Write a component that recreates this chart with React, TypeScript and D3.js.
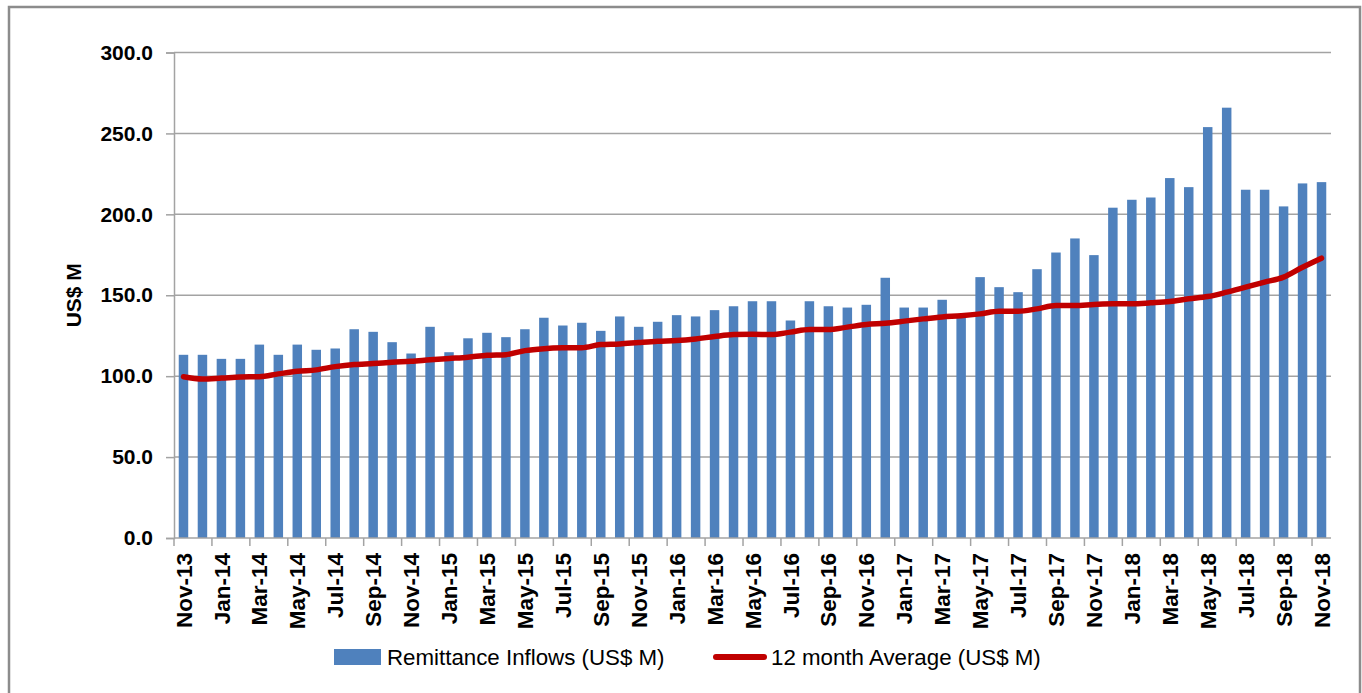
import React, { useRef, useEffect } from 'react';
import * as d3 from 'd3';

// month labels, Nov-13 .. Nov-18
const months = [
  'Nov-13', 'Dec-13',
  'Jan-14', 'Feb-14', 'Mar-14', 'Apr-14', 'May-14', 'Jun-14', 'Jul-14', 'Aug-14', 'Sep-14', 'Oct-14', 'Nov-14', 'Dec-14',
  'Jan-15', 'Feb-15', 'Mar-15', 'Apr-15', 'May-15', 'Jun-15', 'Jul-15', 'Aug-15', 'Sep-15', 'Oct-15', 'Nov-15', 'Dec-15',
  'Jan-16', 'Feb-16', 'Mar-16', 'Apr-16', 'May-16', 'Jun-16', 'Jul-16', 'Aug-16', 'Sep-16', 'Oct-16', 'Nov-16', 'Dec-16',
  'Jan-17', 'Feb-17', 'Mar-17', 'Apr-17', 'May-17', 'Jun-17', 'Jul-17', 'Aug-17', 'Sep-17', 'Oct-17', 'Nov-17', 'Dec-17',
  'Jan-18', 'Feb-18', 'Mar-18', 'Apr-18', 'May-18', 'Jun-18', 'Jul-18', 'Aug-18', 'Sep-18', 'Oct-18', 'Nov-18',
];

// Remittance Inflows (US$ M)
const inflows = [
  113.2, 113.2,
  110.7, 110.7, 119.5, 113.2, 119.5, 116.3, 117.1, 129.0, 127.4, 121.0, 114.0, 130.5,
  114.8, 123.4, 126.8, 124.1, 129.0, 136.1, 131.3, 133.0, 128.0, 136.9, 130.5, 133.6,
  137.7, 136.9, 140.8, 143.2, 146.3, 146.3, 134.4, 146.3, 143.2, 142.4, 144.1, 160.8,
  142.4, 142.4, 147.2, 137.5, 161.2, 155.0, 151.9, 166.1, 176.4, 185.1, 174.8, 204.1,
  209.0, 210.4, 222.4, 216.8, 253.9, 265.9, 215.2, 215.2, 204.9, 219.1, 219.9,
];

// 12 month Average (US$ M)
const average = [
  99.6, 98.2,
  98.8, 99.5, 99.7, 101.4, 103.0, 103.9, 105.9, 107.2, 107.8, 108.6, 109.2, 110.1,
  110.9, 111.7, 112.9, 113.3, 115.8, 117.0, 117.5, 117.6, 119.5, 119.9, 120.8, 121.6,
  122.0, 123.0, 124.5, 125.7, 125.9, 125.7, 127.2, 128.8, 128.8, 130.3, 131.9, 132.7,
  134.0, 135.4, 136.6, 137.3, 138.5, 140.1, 140.1, 141.6, 143.7, 143.7, 144.3, 144.7,
  144.7, 145.3, 146.1, 147.8, 149.2, 151.9, 155.0, 158.1, 161.2, 167.3, 172.9,
];

const yTicks = [0, 50, 100, 150, 200, 250, 300];

const seriesNames = ['Remittance Inflows (US$ M)', '12 month Average (US$ M)'];

const BAR = '#4f81bd';
const LINE = '#c00000';
const GRID = '#a3a3a3';
const FONT = '"Liberation Sans", Arial, sans-serif';

const App = () => {
  const svgRef = useRef<SVGSVGElement>(null);

  useEffect(() => {
    const svg = d3.select(svgRef.current);
    svg.selectAll('*').remove();

    const left = 174;
    const right = 1331;
    const top = 52.5;
    const bottom = 538;

    // outer chart border
    svg.append('rect')
      .attr('x', 9).attr('y', 7)
      .attr('width', 1351).attr('height', 710)
      .attr('fill', '#fff')
      .attr('stroke', '#8c8c8c')
      .attr('stroke-width', 2.5);

    const x = d3.scaleBand()
      .domain(months)
      .range([left, right])
      .paddingInner(0.5)
      .paddingOuter(0.25);

    const y = d3.scaleLinear()
      .domain([0, 300])
      .range([bottom, top]);

    // gridlines
    svg.append('g')
      .selectAll('line')
      .data(yTicks.filter(d => d > 0))
      .join('line')
      .attr('x1', left).attr('x2', right)
      .attr('y1', d => y(d)).attr('y2', d => y(d))
      .attr('stroke', GRID)
      .attr('stroke-width', 1.5);

    // y axis
    const yAxis = svg.append('g')
      .attr('transform', `translate(${left},0)`)
      .call(d3.axisLeft(y).tickValues(yTicks).tickFormat(d => d3.format('.1f')(d as number)).tickSize(8).tickPadding(13));
    yAxis.select('.domain').attr('stroke', GRID).attr('stroke-width', 1.5);
    yAxis.selectAll('.tick line').attr('stroke', GRID).attr('stroke-width', 1.5);
    yAxis.selectAll('.tick text')
      .attr('font-family', FONT)
      .attr('font-size', 21)
      .attr('font-weight', 'bold')
      .attr('fill', '#000');

    // bars
    svg.append('g')
      .attr('fill', BAR)
      .selectAll('rect')
      .data(inflows)
      .join('rect')
      .attr('x', (d, i) => x(months[i]) as number)
      .attr('y', d => y(d))
      .attr('width', x.bandwidth())
      .attr('height', d => y(0) - y(d));

    // x axis line
    svg.append('line')
      .attr('x1', left).attr('x2', right)
      .attr('y1', bottom).attr('y2', bottom)
      .attr('stroke', GRID).attr('stroke-width', 1.5);

    // x ticks every 2 months at category boundaries
    const step = x.step();
    const boundaries = months.filter((m, i) => i % 2 === 0).map((m, i) => left + i * 2 * step);
    svg.append('g')
      .selectAll('line')
      .data(boundaries)
      .join('line')
      .attr('x1', d => d).attr('x2', d => d)
      .attr('y1', bottom).attr('y2', bottom + 8)
      .attr('stroke', GRID).attr('stroke-width', 1.5);

    // x labels, every other month, rotated
    svg.append('g')
      .selectAll('text')
      .data(months.filter((m, i) => i % 2 === 0))
      .join('text')
      .attr('transform', d => `translate(${(x(d) as number) + x.bandwidth() / 2},${bottom + 15}) rotate(-90)`)
      .attr('dy', '0.36em')
      .attr('text-anchor', 'end')
      .attr('font-family', FONT)
      .attr('font-size', 22.5)
      .attr('font-weight', 'bold')
      .text(d => d);

    // 12 month average line
    const line = d3.line<number>()
      .x((d, i) => (x(months[i]) as number) + x.bandwidth() / 2)
      .y(d => y(d))
      .curve(d3.curveMonotoneX);

    svg.append('path')
      .datum(average)
      .attr('d', line)
      .attr('fill', 'none')
      .attr('stroke', LINE)
      .attr('stroke-width', 5.5)
      .attr('stroke-linejoin', 'round')
      .attr('stroke-linecap', 'round');

    // y axis title
    svg.append('text')
      .attr('transform', `translate(81,${(top + bottom) / 2}) rotate(-90)`)
      .attr('text-anchor', 'middle')
      .attr('font-family', FONT)
      .attr('font-size', 21)
      .attr('font-weight', 'bold')
      .text('US$ M');

    // legend
    const legend = svg.append('g');
    legend.append('rect')
      .attr('x', 334).attr('y', 649)
      .attr('width', 47).attr('height', 16)
      .attr('fill', BAR);
    legend.append('text')
      .attr('x', 387).attr('y', 665)
      .attr('font-family', FONT)
      .attr('font-size', 22.3)
      .text(seriesNames[0]);
    legend.append('line')
      .attr('x1', 716).attr('x2', 764)
      .attr('y1', 657).attr('y2', 657)
      .attr('stroke', LINE)
      .attr('stroke-width', 6)
      .attr('stroke-linecap', 'round');
    legend.append('text')
      .attr('x', 771).attr('y', 665)
      .attr('font-family', FONT)
      .attr('font-size', 22.3)
      .text(seriesNames[1]);
  }, []);

  return (
    <svg
      ref={svgRef}
      width={1362}
      height={693}
      style={{ position: 'absolute', left: 0, top: 0, display: 'block', background: '#fff' }}
    />
  );
};

export default App;
